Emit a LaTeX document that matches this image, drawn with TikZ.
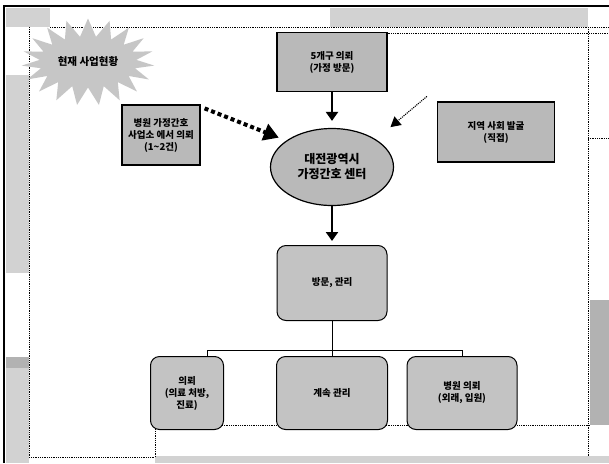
\documentclass[tikz,border=0pt]{standalone}
\usepackage{fontspec}
\usepackage{tikz}
\usetikzlibrary{shapes.geometric,shapes.symbols,arrows.meta}
\newfontfamily\kr{Noto Sans CJK KR}

\begin{document}
\begin{tikzpicture}[x=1pt,y=-1pt,
	box/.style={draw,line width=1.2pt,fill=gray!55,align=center,
		font=\kr\bfseries\fontsize{9.5}{12}\selectfont,inner sep=2pt},
	rbox/.style={box,rounded corners=9pt,fill=gray!47,line width=1pt},
	strip/.style={fill=gray!35},
	wavy/.style={densely dotted,line width=0.8pt},
	link/.style={line width=0.9pt}]
	\useasboundingbox[fill=white] (0,0) rectangle (609,463);
	% slide frame
	\fill[strip] (6,8) rectangle (50,27);
	\fill[strip] (6,75) rectangle (29,273);
	\fill[strip] (6,357) rectangle (29,463);
	\fill[gray!60] (6,357) rectangle (29,368);
	\fill[strip] (330,8) rectangle (588,27);
	\fill[gray!60] (590,300) rectangle (609,425);
	\fill[strip] (155,456) rectangle (609,463);
	\draw[line width=2pt] (4,463) -- (4,6) -- (609,6);
	\draw[wavy] (50,27) -- (609,27);
	\draw[wavy] (330,33) -- (609,33);
	\draw[wavy] (29,27) -- (29,457) -- (155,457);
	\draw[wavy] (155,457) -- (155,425) -- (590,425);
	\draw[wavy] (588,27) -- (588,457);
	\draw[wavy] (588,138) -- (609,138);
	% title
	\node[starburst,starburst points=19,starburst point height=18pt,
		random starburst=0,fill=gray!45,minimum width=133pt,minimum height=87pt,
		font=\kr\bfseries\fontsize{10.5}{12}\selectfont] (burst) at (88,62) {현재 사업현황};
	% sources
	\node[box,minimum width=110pt,minimum height=59pt] (topbox) at (332,62)
		{5개구 의뢰\\(가정 방문)};
	\node[box,minimum width=78pt,minimum height=60pt] (leftbox) at (161,135)
		{병원 가정간호\\사업소 에서 의뢰\\(1\textasciitilde 2건)};
	\node[box,minimum width=117pt,minimum height=60pt] (rightbox) at (496,132)
		{지역 사회 발굴\\(직접)};
	% center
	\node[ellipse,draw,line width=1.2pt,fill=gray!55,minimum width=123pt,minimum height=77pt,
		align=center,font=\kr\bfseries\fontsize{12}{15}\selectfont] (ell) at (332,167)
		{대전광역시\\가정간호 센터};
	\node[rbox,minimum width=110pt,minimum height=75pt] (visit) at (332,283) {방문, 관리};
	% results
	\node[rbox,minimum width=73pt,minimum height=73pt] (res1) at (187,393)
		{의뢰\\(의료 처방,\\진료)};
	\node[rbox,minimum width=111pt,minimum height=73pt] (res2) at (332,393) {계속 관리};
	\node[rbox,minimum width=110pt,minimum height=73pt] (res3) at (462,393)
		{병원 의뢰\\(외래, 입원)};
	% arrows
	\draw[line width=2.5pt,-{Triangle[length=9pt,width=12pt]},shorten >=7pt] (topbox) -- (ell);
	\draw[line width=2.5pt,-{Triangle[length=9pt,width=12pt]},shorten >=4pt] (ell) -- (visit);
	\draw[line width=4pt,dash pattern=on 4pt off 3pt,-{Triangle[length=15pt,width=17pt]},
		shorten >=8pt] ([xshift=4pt,yshift=-4pt]leftbox.north east) -- (ell.150);
	\draw[densely dotted,line width=1.1pt,-{Triangle[length=10pt,width=11pt]},
		shorten >=19pt] ([xshift=-10pt,yshift=5pt]rightbox.north west) -- (ell.north east);
	% tree
	\coordinate (split) at (332,350);
	\coordinate (res1top) at (207,357);
	\draw[link] (visit) -- (split) -| (res1top);
	\draw[link] (split) -| (res3);
	\draw[link] (split) -- (res2);
\end{tikzpicture}
\end{document}
